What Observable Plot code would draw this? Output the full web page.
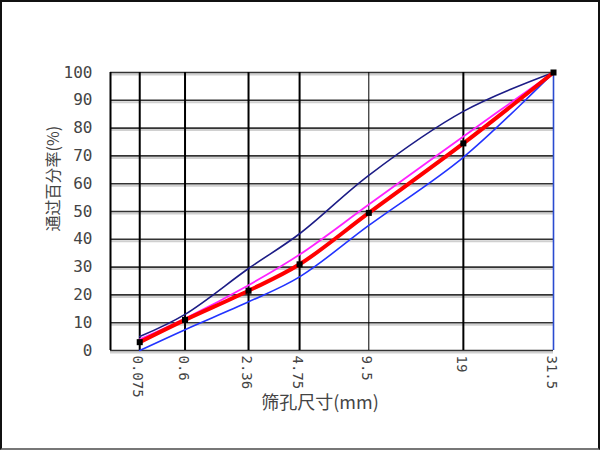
<!DOCTYPE html>
<html>
<head>
<meta charset="utf-8">
<script src="https://cdn.jsdelivr.net/npm/d3@7"></script>
<script src="https://cdn.jsdelivr.net/npm/@observablehq/plot@0.6"></script>
<style>
  html, body { margin: 0; padding: 0; background: #fff; }
  #wrap { position: relative; width: 600px; height: 450px; overflow: hidden; }
  #wrap svg { position: absolute; left: 0; top: 0; }
  #border { position: absolute; left: 0; top: 0; width: 596px; height: 446px;
            border: 2px solid #111; border-bottom-color: #777; pointer-events: none; }
</style>
</head>
<body>
<div id="wrap"><div id="border"></div></div>
<script>
// Sieve sizes (mm)
const sizes = [0.075, 0.6, 2.36, 4.75, 9.5, 19, 31.5];
const sizeLabels = ["0.075", "0.6", "2.36", "4.75", "9.5", "19", "31.5"];
// Gradation envelope and curves (% passing)
const upperLimit = [5, 13, 29.5, 42, 63, 86, 100];
const lowerLimit = [0, 7.5, 17.5, 26.5, 45, 69.5, 100];
const medianCurve = [4, 11.5, 23.5, 34.5, 52.5, 77, 100];
const designCurve = [3, 11, 21.5, 31, 49.5, 74.5, 100];
const yTicks = [0, 10, 20, 30, 40, 50, 60, 70, 80, 90, 100];

const toRows = (vals) => sizes.map((s, i) => ({size: s, pass: vals[i]}));
const upper = toRows(upperLimit);
const lower = toRows(lowerLimit);
const median = toRows(medianCurve);
const design = toRows(designCurve);

const thickV = [0, 0.075, 0.6, 2.36, 4.75, 19];
const font = "'DejaVu Sans Mono', monospace";
const cjk = "'Noto Sans CJK SC', sans-serif";

const chart = Plot.plot({
  width: 600,
  height: 450,
  marginLeft: 110,
  marginRight: 47,
  marginTop: 72,
  marginBottom: 100,
  style: {background: "transparent", overflow: "visible"},
  x: {type: "pow", exponent: 0.45, domain: [0, 31.5], axis: null},
  y: {domain: [0, 100], axis: null},
  marks: [
    // horizontal grid with light shadow
    Plot.ruleY(yTicks, {stroke: "#d0d0d0", strokeWidth: 2, dy: 2}),
    Plot.ruleY(yTicks, {stroke: "#333", strokeWidth: 1.6}),
    // vertical grid
    Plot.ruleX(thickV, {stroke: "#000", strokeWidth: 2}),
    Plot.ruleX([9.5], {stroke: "#000", strokeWidth: 1}),
    Plot.ruleX([31.5], {stroke: "#2a4bd0", strokeWidth: 1.6}),
    // curves
    Plot.line(upper, {x: "size", y: "pass", stroke: "#1c1c86", strokeWidth: 1.6, curve: "catmull-rom"}),
    Plot.line(lower, {x: "size", y: "pass", stroke: "#2233ff", strokeWidth: 1.6, curve: "catmull-rom"}),
    Plot.line(median, {x: "size", y: "pass", stroke: "#ff22ff", strokeWidth: 1.8, curve: "catmull-rom"}),
    Plot.line(design, {x: "size", y: "pass", stroke: "#ff0000", strokeWidth: 4, curve: "catmull-rom"}),
    Plot.dot(design, {x: "size", y: "pass", symbol: "square", r: 3.4, fill: "#000", stroke: "none"}),
    // y tick labels
    Plot.text(yTicks, {x: 0, y: d => d, text: d => String(d), textAnchor: "end", dx: -18,
      fontSize: 16, fontFamily: font, fill: "#444"}),
    // x tick labels (rotated)
    Plot.text(sizes, {x: d => d, y: 0, text: (d, i) => sizeLabels[i], rotate: 90, textAnchor: "start",
      dy: 5, dx: -2, fontSize: 14, fontFamily: font, fill: "#444"}),
    // axis titles
    Plot.text(["筛孔尺寸(mm)"], {frameAnchor: "bottom", dy: 58, dx: -12, fontSize: 18, fontFamily: cjk, fill: "#444"}),
    Plot.text(["通过百分率(%)"], {frameAnchor: "left", rotate: -90, dx: -57, dy: 20, fontSize: 16, fontFamily: cjk, fill: "#444"})
  ]
});
document.getElementById("wrap").prepend(chart);
</script>
</body>
</html>
